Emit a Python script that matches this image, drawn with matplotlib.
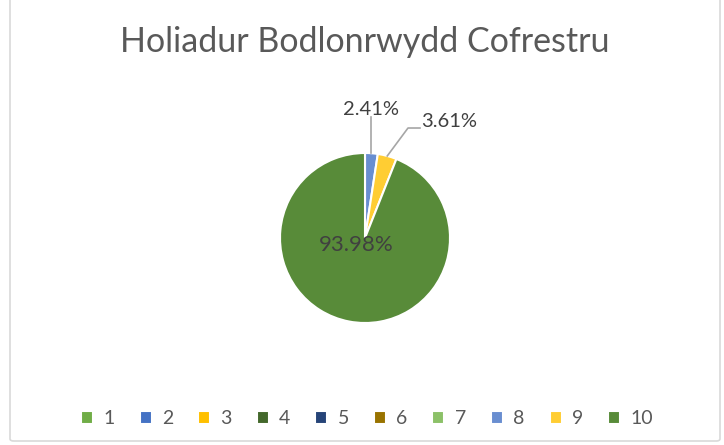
import matplotlib
matplotlib.use("Agg")
import matplotlib.pyplot as plt
import numpy as np
from matplotlib.patches import FancyBboxPatch

categories = ["1", "2", "3", "4", "5", "6", "7", "8", "9", "10"]
values = [0, 0, 0, 0, 0, 0, 0, 2, 3, 78]
colors = ["#70AD47", "#4472C4", "#FFC000", "#43682B", "#264478",
          "#997300", "#8CC168", "#698ED0", "#FFCD33", "#588B39"]
title = "Holiadur Bodlonrwydd Cofrestru"

plt.rcParams['font.family'] = ['Lato', 'DejaVu Sans']

W, H = 724, 445
fig = plt.figure(figsize=(W / 100, H / 100), dpi=100)

# chart border
border = FancyBboxPatch((10 / W, 4 / H), 710 / W, 460 / H,
                        boxstyle="round,pad=0,rounding_size=0.005",
                        transform=fig.transFigure, fill=False,
                        edgecolor="#D9D9D9", linewidth=1.2)
fig.patches.append(border)

cx, cy, r = 365, 238, 85
ax = fig.add_axes([(cx - r) / W, (H - cy - r) / H, 2 * r / W, 2 * r / H])
wedges, _ = ax.pie(values, colors=colors, startangle=90, counterclock=False,
                   wedgeprops=dict(edgecolor="white", linewidth=1.5, clip_on=False))
ax.set_xlim(-1, 1)
ax.set_ylim(-1, 1)
ax.set_aspect("equal")
ax.axis("off")

total = sum(values)
# label positions (layout) for nonzero slices
label_pos = {7: (0.07, 1.506), 8: (0.988, 1.365), 9: (-0.106, -0.082)}
cum = 0
for i, v in enumerate(values):
    if v == 0:
        continue
    frac = v / total
    mid = np.deg2rad(90 - (cum + v / 2) / total * 360)
    cum += v
    txt = f"{frac * 100:.2f}%"
    lx, ly = label_pos[i]
    if i == 9:
        ax.text(lx, ly, txt, ha="center", va="center", fontsize=16, color="#404040")
        continue
    ax.text(lx, ly, txt, ha="center", va="center", fontsize=14.5, color="#404040",
            clip_on=False)
    ex, ey = np.cos(mid), np.sin(mid)
    if i == 7:
        xs, ys = [ex, ex], [ey, 1.42]
    else:
        xs, ys = [ex, 0.506, 0.647], [ey, 1.294, 1.294]
    ax.plot(xs, ys, color="#A6A6A6", linewidth=1.2, clip_on=False)

fig.text(365 / W, 1 - 42 / H, title, ha="center", va="center",
         fontsize=24.5, color="#595959")

fig.legend(wedges, categories, loc="center", bbox_to_anchor=(367 / W, 1 - 419 / H),
           ncol=10, frameon=False, fontsize=14, handlelength=0.62, handleheight=0.62,
           handletextpad=0.52, columnspacing=1.29, labelcolor="#595959")

fig.savefig("out.png", dpi=100)
